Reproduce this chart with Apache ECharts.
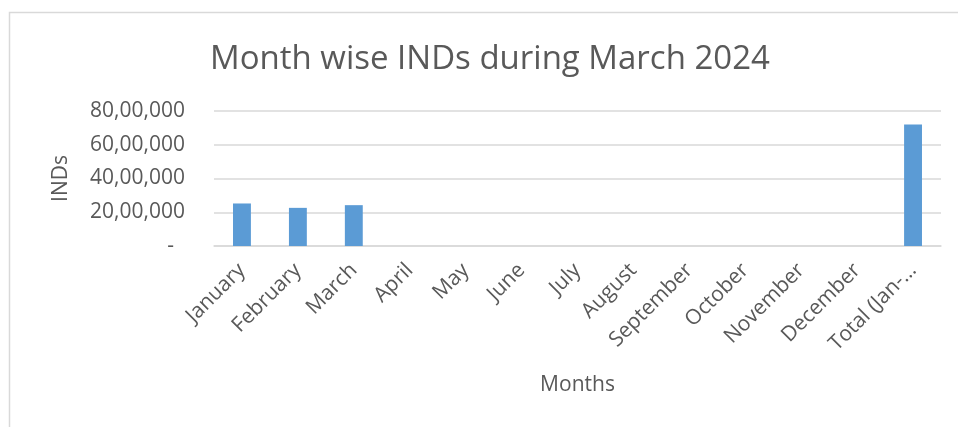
<!DOCTYPE html>
<html>
<head>
<meta charset="utf-8">
<style>
  html, body { margin: 0; padding: 0; background: #fff; }
  #chart { width: 958px; height: 427px; }
</style>
<script src="https://cdn.jsdelivr.net/npm/echarts@6/dist/echarts.min.js"></script>
</head>
<body>
<div id="chart"></div>
<script>
// categories and values
const months = ['January', 'February', 'March', 'April', 'May', 'June', 'July',
  'August', 'September', 'October', 'November', 'December', 'Total (Jan-…']
const inds = [2520000, 2260000, 2420000, null, null, null, null,
  null, null, null, null, null, 7200000]
const yTicks = [0, 2000000, 4000000, 6000000, 8000000]

// Indian digit grouping, 0 shown as a dash (accounting style, padded)
function indianFormat (v) {
  if (v === 0) return '-  '
  const s = String(Math.round(v))
  const last3 = s.slice(-3)
  let rest = s.slice(0, -3)
  rest = rest.replace(/\B(?=(\d{2})+(?!\d))/g, ',')
  return rest ? rest + ',' + last3 : last3
}

const chart = echarts.init(document.getElementById('chart'))
const textColor = '#595959'
const font = 'Open Sans'

const option = {
  animation: false,
  backgroundColor: '#fff',
  title: {
    text: 'Month wise INDs during March 2024',
    left: 205,
    top: 38,
    textStyle: { fontFamily: font, fontWeight: 'normal', fontSize: 33, color: textColor }
  },
  // outer chart border (only top and left visible)
  graphic: [{
    type: 'rect',
    shape: { x: 9.5, y: 12.5, width: 1000, height: 500 },
    style: { fill: 'none', stroke: '#d9d9d9', lineWidth: 1.5 },
    silent: true
  }],
  grid: {
    left: 214,
    right: 17,
    top: 111,
    bottom: 181
  },
  xAxis: {
    type: 'category',
    data: months,
    name: 'Months',
    nameLocation: 'middle',
    nameGap: 129,
    nameTextStyle: { fontFamily: font, fontSize: 21, color: textColor },
    axisTick: { show: false },
    axisLine: { lineStyle: { color: '#d9d9d9', width: 1.5 } },
    axisLabel: {
      rotate: 45,
      interval: 0,
      margin: 21,
      fontFamily: font,
      fontSize: 21,
      color: textColor
    }
  },
  yAxis: {
    type: 'value',
    min: yTicks[0],
    max: yTicks[yTicks.length - 1],
    interval: yTicks[1] - yTicks[0],
    name: 'INDs',
    nameLocation: 'middle',
    nameGap: 142,
    nameTextStyle: { fontFamily: font, fontSize: 21, color: textColor },
    axisLine: { show: false },
    axisTick: { show: false },
    splitLine: { lineStyle: { color: '#d9d9d9', width: 1.5 } },
    axisLabel: {
      margin: 29,
      fontFamily: font,
      fontSize: 21,
      color: textColor,
      formatter: indianFormat
    }
  },
  series: [{
    type: 'bar',
    data: inds,
    barWidth: '32%',
    itemStyle: { color: '#5b9bd5' }
  }]
}

chart.setOption(option)
</script>
</body>
</html>
